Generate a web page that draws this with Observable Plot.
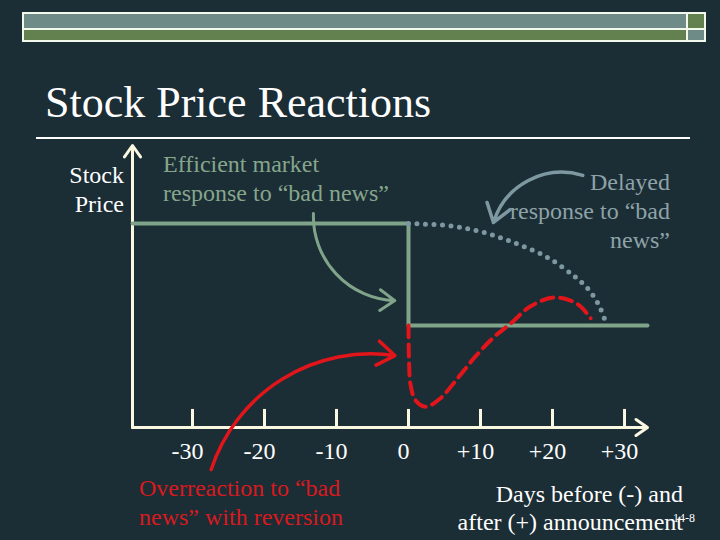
<!DOCTYPE html>
<html>
<head>
<meta charset="utf-8">
<script src="https://cdn.jsdelivr.net/npm/d3@7"></script>
<script src="https://cdn.jsdelivr.net/npm/@observablehq/plot@0.6"></script>
<style>
html, body { margin: 0; padding: 0; background: #1b2d35; }
#slide { position: relative; width: 720px; height: 540px; background: #1b2d35; overflow: hidden;
  font-family: "Liberation Serif", "Times New Roman", serif; }
.box { position: absolute; }
.t { position: absolute; white-space: nowrap; font-size: 24px; line-height: 29px; }
#chart { position: absolute; left: 0; top: 0; }
</style>
</head>
<body>
<div id="slide">
  <div class="box" style="left:22px;top:12px;width:684px;height:30px;background:#f3f8ec;"></div>
  <div class="box" style="left:24px;top:14px;width:662px;height:14px;background:#6e8b88;"></div>
  <div class="box" style="left:24px;top:30px;width:662px;height:10px;background:#62814f;"></div>
  <div class="box" style="left:688px;top:14px;width:16px;height:14px;background:#62814f;"></div>
  <div class="box" style="left:688px;top:30px;width:16px;height:10px;background:#6e8b88;"></div>

  <div class="t" id="title" style="left:45px;top:81px;font-size:44px;line-height:44px;color:#ffffff;"></div>
  <div class="box" style="left:36px;top:137px;width:654px;height:2px;background:#ffffff;"></div>

  <div class="t" id="ylab" style="right:596px;top:161px;text-align:right;color:#ffffff;"></div>
  <div class="t" id="effText" style="left:163px;top:150px;color:#86a68c;"></div>
  <div class="t" id="delText" style="right:50px;top:168px;text-align:right;color:#8ea2a8;"></div>
  <div class="t" id="overText" style="left:139px;top:474px;color:#d81a1f;"></div>
  <div class="t" id="xlab" style="right:37px;top:480px;line-height:28px;text-align:right;color:#ffffff;"></div>
  <div class="t" id="slideNo" style="left:673px;top:512px;font-size:12px;line-height:12px;color:#ffffff;"></div>
  <div id="chart"></div>
</div>
<script>
// ---- text ----
const titleText = "Stock Price Reactions";
const yAxisLines = ["Stock", "Price"];
const efficientLabel = ["Efficient market", "response to “bad news”"];
const delayedLabel = ["Delayed", "response to “bad", "news”"];
const overreactionLabel = ["Overreaction to “bad", "news” with reversion"];
const xAxisLines = ["Days before (-) and", "after (+) announcement"];
const slideNumber = "14-8";

// ---- axis ticks ----
const tickDays = [-30, -20, -10, 0, 10, 20, 30];
const tickLabels = ["-30", "-20", "-10", "0", "+10", "+20", "+30"];
const dayDomain = [-38.33, 33.19];
const priceDomain = [0, 100];

// ---- series ----
const efficientDays = [-38.33, 0, 0, 33.19];
const efficientPrice = [72.3, 72.3, 36.2, 36.2];

const overDays = [0, 0.07, 0.3, 1.0, 2.4, 4.4, 6.8, 9.3, 11.8, 14.2, 16.9, 20.1, 22.5, 23.9, 25.3];
const overPrice = [36.2, 23.8, 14.9, 9.6, 7.4, 10.3, 17.4, 25.2, 31.9, 36.9, 42.9, 46.1, 45.0, 42.9, 38.7];

const delayedDays = [0, 5.4, 10, 14.6, 19.3, 22.9, 24.9, 26.4, 27.4];
const delayedPrice = [72.3, 71.6, 69.5, 65.6, 60.3, 53.9, 49.3, 43.6, 37.2];

// ---- annotation arrows (start day, start price, end day, end price) ----
const effArrow = [-13.2, 75.9, -1.9, 45.0];
const overArrow = [-27.4, -14.9, -1.9, 25.5];
const delArrow = [24.2, 89.4, 11.8, 72.7];

// ---- colours ----
const cream = "#fbf8e2";
const green = "#80a48a";
const red = "#e2151b";
const grey = "#7e98a1";

document.getElementById("title").textContent = titleText;
const setLines = (id, lines) => { document.getElementById(id).innerHTML = lines.map(s => s.replace(/&/g,"&amp;")).join("<br>"); };
setLines("ylab", yAxisLines);
setLines("effText", efficientLabel);
setLines("delText", delayedLabel);
setLines("overText", overreactionLabel);
setLines("xlab", xAxisLines);
document.getElementById("slideNo").textContent = slideNumber;

const efficient = efficientDays.map((d, i) => ({day: d, price: efficientPrice[i]}));
const over = overDays.map((d, i) => ({day: d, price: overPrice[i]}));
const delayed = delayedDays.map((d, i) => ({day: d, price: delayedPrice[i]}));
const ticks = tickDays.map((d, i) => ({day: d, label: tickLabels[i], base: priceDomain[0], top: 6.4}));
const axes = [
  {x1: dayDomain[0], y1: priceDomain[0], x2: dayDomain[1], y2: priceDomain[0]},
  {x1: dayDomain[0], y1: priceDomain[0], x2: dayDomain[0], y2: priceDomain[1]}
];
const arr = a => [{x1: a[0], y1: a[1], x2: a[2], y2: a[3]}];

const chart = Plot.plot({
  width: 720,
  height: 540,
  marginLeft: 132,
  marginRight: 73,
  marginTop: 145,
  marginBottom: 113,
  x: {domain: dayDomain, axis: null},
  y: {domain: priceDomain, axis: null},
  style: {background: "transparent", overflow: "visible", fontFamily: "Liberation Serif, Times New Roman, serif"},
  marks: [
    Plot.ruleX(ticks, {x: "day", y1: "base", y2: "top", stroke: cream, strokeWidth: 3}),
    Plot.arrow(axes, {x1: "x1", y1: "y1", x2: "x2", y2: "y2", stroke: cream, strokeWidth: 3, headLength: 7, headAngle: 70}),
    Plot.text(ticks, {x: "day", y: "base", text: "label", dy: 24, dx: -5, fontSize: 24, fill: "#ffffff", lineAnchor: "middle"}),
    Plot.line(efficient, {x: "day", y: "price", stroke: green, strokeWidth: 4}),
    Plot.line(delayed, {x: "day", y: "price", stroke: grey, strokeWidth: 5, strokeDasharray: "0 8.5", strokeLinecap: "round", curve: "catmull-rom"}),
    Plot.line(over, {x: "day", y: "price", stroke: red, strokeWidth: 4, strokeDasharray: "12 7", curve: "catmull-rom"}),
    Plot.arrow(arr(effArrow), {x1: "x1", y1: "y1", x2: "x2", y2: "y2", bend: -45, stroke: green, strokeWidth: 3, headLength: 9, headAngle: 70}),
    Plot.arrow(arr(overArrow), {x1: "x1", y1: "y1", x2: "x2", y2: "y2", bend: 40, stroke: red, strokeWidth: 3.5, headLength: 9, headAngle: 70}),
    Plot.arrow(arr(delArrow), {x1: "x1", y1: "y1", x2: "x2", y2: "y2", bend: -45, stroke: grey, strokeWidth: 3.5, headLength: 9, headAngle: 70})
  ]
});
document.getElementById("chart").appendChild(chart);
</script>
</body>
</html>
